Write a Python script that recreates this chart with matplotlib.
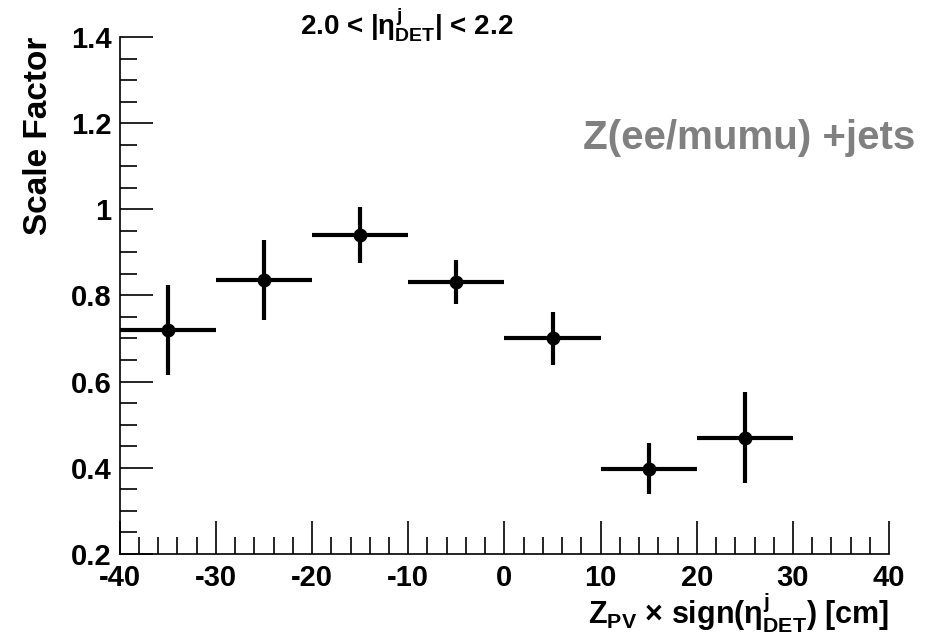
import numpy as np
import matplotlib
matplotlib.use("Agg")
import matplotlib.pyplot as plt
from matplotlib.ticker import MultipleLocator

# ── Datos ────────────────────────────────────────────────────────────────────
z_centros = [-35, -25, -15, -5, 5, 15, 25]
z_semiancho = [5, 5, 5, 5, 5, 5, 5]
factor_escala = [0.720, 0.836, 0.940, 0.831, 0.700, 0.398, 0.470]
error_factor = [0.105, 0.093, 0.065, 0.052, 0.062, 0.060, 0.105]

titulo = r"2.0 < |$\eta^{j}_{\mathbf{DET}}$| < 2.2"
etiqueta_proceso = "Z(ee/mumu) +jets"

# ── Estilo ───────────────────────────────────────────────────────────────────
plt.rcParams["font.family"] = ["Liberation Sans", "DejaVu Sans"]
plt.rcParams["font.weight"] = "bold"
plt.rcParams["axes.unicode_minus"] = False
plt.rcParams["mathtext.fontset"] = "custom"
plt.rcParams["mathtext.rm"] = "Liberation Sans:bold"
plt.rcParams["mathtext.bf"] = "Liberation Sans:bold"
plt.rcParams["mathtext.it"] = "Liberation Sans:bold"

fig = plt.figure(figsize=(9.35, 6.38), dpi=100)
ax = fig.add_axes([0.128, 0.132, 0.823, 0.810])

ax.errorbar(z_centros, factor_escala, xerr=z_semiancho, yerr=error_factor,
            fmt="o", color="black", markersize=9, elinewidth=3, capsize=0)

ax.set_xlim(-40, 40)
ax.set_ylim(0.2, 1.4)
ax.xaxis.set_major_locator(MultipleLocator(10))
ax.xaxis.set_minor_locator(MultipleLocator(2))
ax.yaxis.set_major_locator(MultipleLocator(0.2))
ax.yaxis.set_minor_locator(MultipleLocator(0.05))
ax.yaxis.set_major_formatter(plt.FuncFormatter(lambda v, p: f"{v:g}"))

for s in ["top", "right"]:
    ax.spines[s].set_visible(False)
for s in ["left", "bottom"]:
    ax.spines[s].set_linewidth(1.2)

ax.tick_params(which="both", direction="in", labelsize=21, width=1.2)
ax.tick_params(which="major", length=24)
ax.tick_params(which="minor", length=12)
ax.tick_params(axis="x", pad=7)
ax.tick_params(axis="y", pad=6)

ax.set_ylabel("Scale Factor", fontsize=24, fontweight="bold", loc="top")
ax.yaxis.set_label_coords(-0.085, 1.0)
ax.set_xlabel(r"$\mathbf{Z_{PV}}$ $\times$ sign($\eta^{j}_{\mathbf{DET}}$) [cm]",
              fontsize=22, fontweight="bold", loc="right")
ax.xaxis.set_label_coords(1.0, -0.072)

fig.text(0.435, 0.962, titulo, fontsize=20, fontweight="bold",
         ha="center", va="center")
fig.text(0.979, 0.784, etiqueta_proceso, fontsize=29, fontweight="bold",
         color="#808080", ha="right", va="center")

fig.savefig("out.png", dpi=100)
